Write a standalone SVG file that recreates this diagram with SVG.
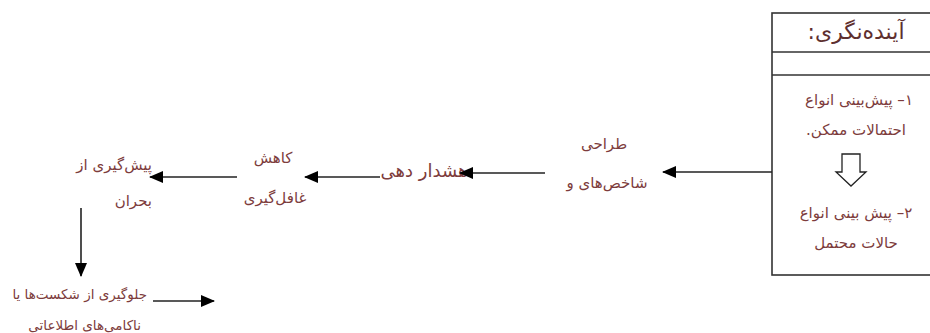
<svg xmlns="http://www.w3.org/2000/svg" width="930" height="333" viewBox="0 0 930 333">
<style>
.t{font-family:"DejaVu Sans","Noto Sans",sans-serif;font-size:15px;fill:#7d3c3c;direction:rtl;unicode-bidi:embed}
.c{text-anchor:middle}
.r{text-anchor:start}
.sm{font-size:13.5px}
.ttl{font-size:22px;fill:#5e2f2f}
.ln{stroke:#222;stroke-width:1.6;fill:none}
.box{stroke:#333;stroke-width:1.6;fill:#fff}
</style>
<defs>
<marker id="ah" markerWidth="14" markerHeight="12" refX="13" refY="6" orient="auto" markerUnits="userSpaceOnUse">
<path d="M0,0 L14,6 L0,12 Z" fill="#000"/>
</marker>
</defs>
<rect width="930" height="333" fill="#fff"/>
<g id="foresight">
<rect class="box" x="772" y="13" width="170" height="262"/>
<line class="box" x1="772" y1="52" x2="930" y2="52"/>
<line class="box" x1="772" y1="75" x2="930" y2="75"/>
<text class="t c ttl" x="856" y="39">آینده‌نگری:</text>
<text class="t c" x="859" y="105">۱– پیش‌بینی انواع</text>
<text class="t c" x="856" y="135">احتمالات ممکن.</text>
<polygon points="842,154 860,154 860,172 866,172 851,186 836,172 842,172" fill="#fff" stroke="#222" stroke-width="1.3"/>
<text class="t c" x="856" y="218">۲– پیش بینی انواع</text>
<text class="t c" x="856" y="248">حالات محتمل</text>
</g>
<g id="design">
<text class="t c" x="604" y="149">طراحی</text>
<text class="t c" x="607" y="188">شاخص‌های و</text>
</g>
<g id="warning">
<text class="t c" x="424" y="177" style="font-size:18px">هشدار دهی</text>
</g>
<g id="reduce">
<text class="t c" x="273" y="163">کاهش</text>
<text class="t c" x="275" y="203">غافل‌گیری</text>
</g>
<g id="prevent">
<text class="t r" x="152" y="170">پیش‌گیری از</text>
<text class="t r" x="152" y="206">بحران</text>
</g>
<g id="avoid">
<text class="t r sm" x="147" y="299">جلوگیری از شکست‌ها یا</text>
<text class="t r sm" x="141" y="330">ناکامی‌های اطلاعاتی</text>
</g>
<g id="connectors">
<line class="ln" x1="772" y1="172" x2="663" y2="172" marker-end="url(#ah)"/>
<line class="ln" x1="545" y1="173" x2="460" y2="173" marker-end="url(#ah)"/>
<line class="ln" x1="380" y1="177" x2="305" y2="177" marker-end="url(#ah)"/>
<line class="ln" x1="237" y1="177" x2="150" y2="177" marker-end="url(#ah)"/>
<line class="ln" x1="81" y1="208" x2="81" y2="276" marker-end="url(#ah)"/>
<line class="ln" x1="153" y1="301" x2="214" y2="301" marker-end="url(#ah)"/>
</g>
</svg>
